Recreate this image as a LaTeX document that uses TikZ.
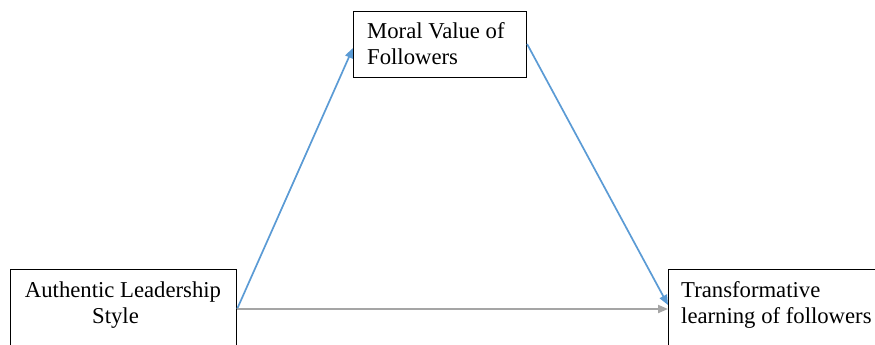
\documentclass[tikz,border=0pt]{standalone}
\usepackage{fontspec}
\setmainfont{Liberation Serif}
\usetikzlibrary{arrows.meta,calc}
\definecolor{accblue}{RGB}{91,155,213}
\definecolor{accgray}{RGB}{165,165,165}
\begin{document}
\begin{tikzpicture}[x=1pt,y=-1pt,
  box/.style={draw=black,line width=1.1pt,inner sep=0pt,anchor=north west},
  lbl/.style={inner sep=0pt,font=\fontsize{22.7}{26}\selectfont},
  bluearrow/.style={draw=accblue,line width=1.7pt,-{Triangle[length=10pt,width=8pt]}},
  grayarrow/.style={draw=accgray,line width=1.9pt,-{Triangle[length=10pt,width=8pt]}}]
\useasboundingbox (0,0) rectangle (875,345);
\clip (0,0) rectangle (875,345);
\fill[white] (0,0) rectangle (875,345);
\node[box,minimum width=226pt,minimum height=100pt] (lb) at (10,269) {};
\node[box,minimum width=173pt,minimum height=66pt] (mb) at (353,11) {};
\node[box,minimum width=230pt,minimum height=100pt] (rb) at (668,269) {};
\node[lbl,align=center,anchor=base] (lt) at (123,323.5) {Authentic Leadership\\Style\hspace*{15pt}};
\node[lbl,align=left,anchor=base west] (mt) at (367,64) {Moral Value of\\Followers};
\node[lbl,align=left,anchor=base west] (rt) at (681,323.5) {Transformative\\learning of followers};
\coordinate (a1) at ($(lb.north east)+(0,40)$);
\coordinate (m1) at ($(mb.north west)+(0,37)$);
\coordinate (m2) at ($(mb.north east)+(0,33)$);
\coordinate (r1) at ($(rb.north west)+(0,36)$);
\coordinate (r2) at ($(rb.north west)+(0,40)$);
\draw[bluearrow] (a1) -- (m1);
\draw[bluearrow] (m2) -- (r1);
\draw[grayarrow] (a1) -- (r2);
\end{tikzpicture}
\end{document}
